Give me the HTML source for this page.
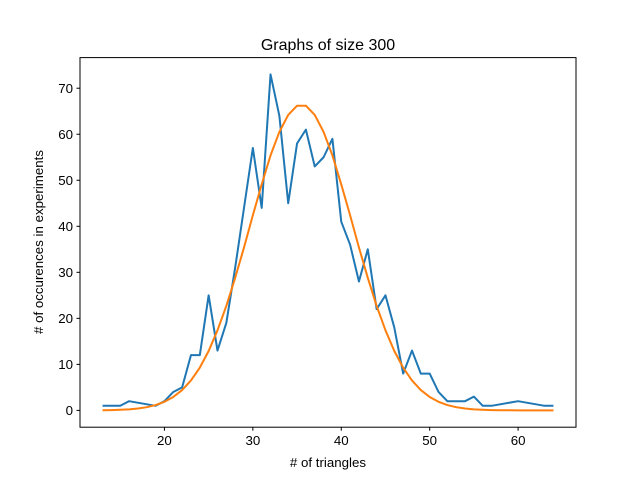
<!DOCTYPE html>
<html><head><meta charset="utf-8"><style>
body{margin:0;background:#fff}
svg text{font-family:"Liberation Sans","DejaVu Sans",sans-serif;fill:#000}
</style></head><body>
<svg id="chart" width="640" height="480" viewBox="0 0 640 480" xmlns="http://www.w3.org/2000/svg">
<rect width="640" height="480" fill="#fff"/>
<text x="328" y="50" font-size="16" text-anchor="middle">Graphs of size 300</text>
<g id="ticks"></g>
<g id="series"></g>
<rect x="80" y="57.6" width="496" height="369.6" fill="none" stroke="#000" stroke-width="1"/>
<text x="328" y="467" font-size="13.3" text-anchor="middle"># of triangles</text>
<text transform="translate(43,242) rotate(-90)" font-size="13.3" text-anchor="middle"># of occurences in experiments</text>
</svg>
<script>
const countX = [13,14,15,16,19,20,21,22,23,24,25,26,27,28,29,30,31,32,33,34,35,36,37,38,39,40,41,42,43,44,45,46,47,48,49,50,51,52,53,54,55,56,57,60,63,64];
const countY = [1,1,1,2,1,2,4,5,12,12,25,13,19,31,44,57,44,73,64,45,58,61,53,55,59,41,36,28,35,22,25,18,8,13,8,8,4,2,2,2,3,1,1,2,1,1];
const fitX = [13,14,15,16,17,18,19,20,21,22,23,24,25,26,27,28,29,30,31,32,33,34,35,36,37,38,39,40,41,42,43,44,45,46,47,48,49,50,51,52,53,54,55,56,57,58,59,60,61,62,63,64];
const fitY = [0.04,0.07,0.13,0.23,0.41,0.70,1.16,1.87,2.92,4.42,6.51,9.29,12.9,17.4,22.7,28.8,35.4,42.4,49.1,55.4,60.5,64.2,66.2,66.2,64.2,60.5,55.4,49.1,42.4,35.4,28.8,22.7,17.4,12.9,9.29,6.51,4.42,2.92,1.87,1.16,0.70,0.41,0.23,0.13,0.07,0.04,0.02,0.01,0,0,0,0];
const xTicks = [20,30,40,50,60];
const yTicks = [0,10,20,30,40,50,60,70];

const NS = "http://www.w3.org/2000/svg";
const L=80,R=576,T=57.6,B=427.2;
const allX = countX.concat(fitX), allY = countY.concat(fitY);
const xmin0=Math.min(...allX), xmax0=Math.max(...allX);
const ymin0=Math.min(...allY), ymax0=Math.max(...allY);
const xm=(xmax0-xmin0)*0.05, ym=(ymax0-ymin0)*0.05;
const xs=v=>L+(v-(xmin0-xm))/((xmax0+xm)-(xmin0-xm))*(R-L);
const ys=v=>B-(v-(ymin0-ym))/((ymax0+ym)-(ymin0-ym))*(B-T);

const tg=document.getElementById('ticks');
xTicks.forEach(t=>{
  const l=document.createElementNS(NS,'line');
  l.setAttribute('x1',xs(t));l.setAttribute('x2',xs(t));l.setAttribute('y1',B);l.setAttribute('y2',B+3.5);l.setAttribute('stroke','#000');
  
  
  tg.appendChild(l);
  const s=document.createElementNS(NS,'text');
  s.setAttribute('x',xs(t));s.setAttribute('y',B+18);s.setAttribute('font-size','13.3');s.setAttribute('text-anchor','middle');s.textContent=t;
  
  
  tg.appendChild(s);
});
yTicks.forEach(t=>{
  const l=document.createElementNS(NS,'line');
  l.setAttribute('x1',L-3.5);l.setAttribute('x2',L);l.setAttribute('y1',ys(t));l.setAttribute('y2',ys(t));l.setAttribute('stroke','#000');
  
  
  tg.appendChild(l);
  const s=document.createElementNS(NS,'text');
  s.setAttribute('x',L-7);s.setAttribute('y',ys(t)+4.8);s.setAttribute('font-size','13.3');s.setAttribute('text-anchor','end');s.textContent=t;
  
  
  tg.appendChild(s);
});
const sg=document.getElementById('series');
function line(xa,ya,color,name){
  const p=document.createElementNS(NS,'polyline');
  p.setAttribute('points',xa.map((x,i)=>xs(x).toFixed(2)+','+ys(ya[i]).toFixed(2)).join(' '));
  p.setAttribute('fill','none');p.setAttribute('stroke',color);p.setAttribute('stroke-width','2');p.setAttribute('stroke-linejoin','round');
  
  
  sg.appendChild(p);
}
line(countX,countY,'#1f77b4','observed-counts-line');
line(fitX,fitY,'#ff7f0e','gaussian-fit-line');
</script>
</body></html>
